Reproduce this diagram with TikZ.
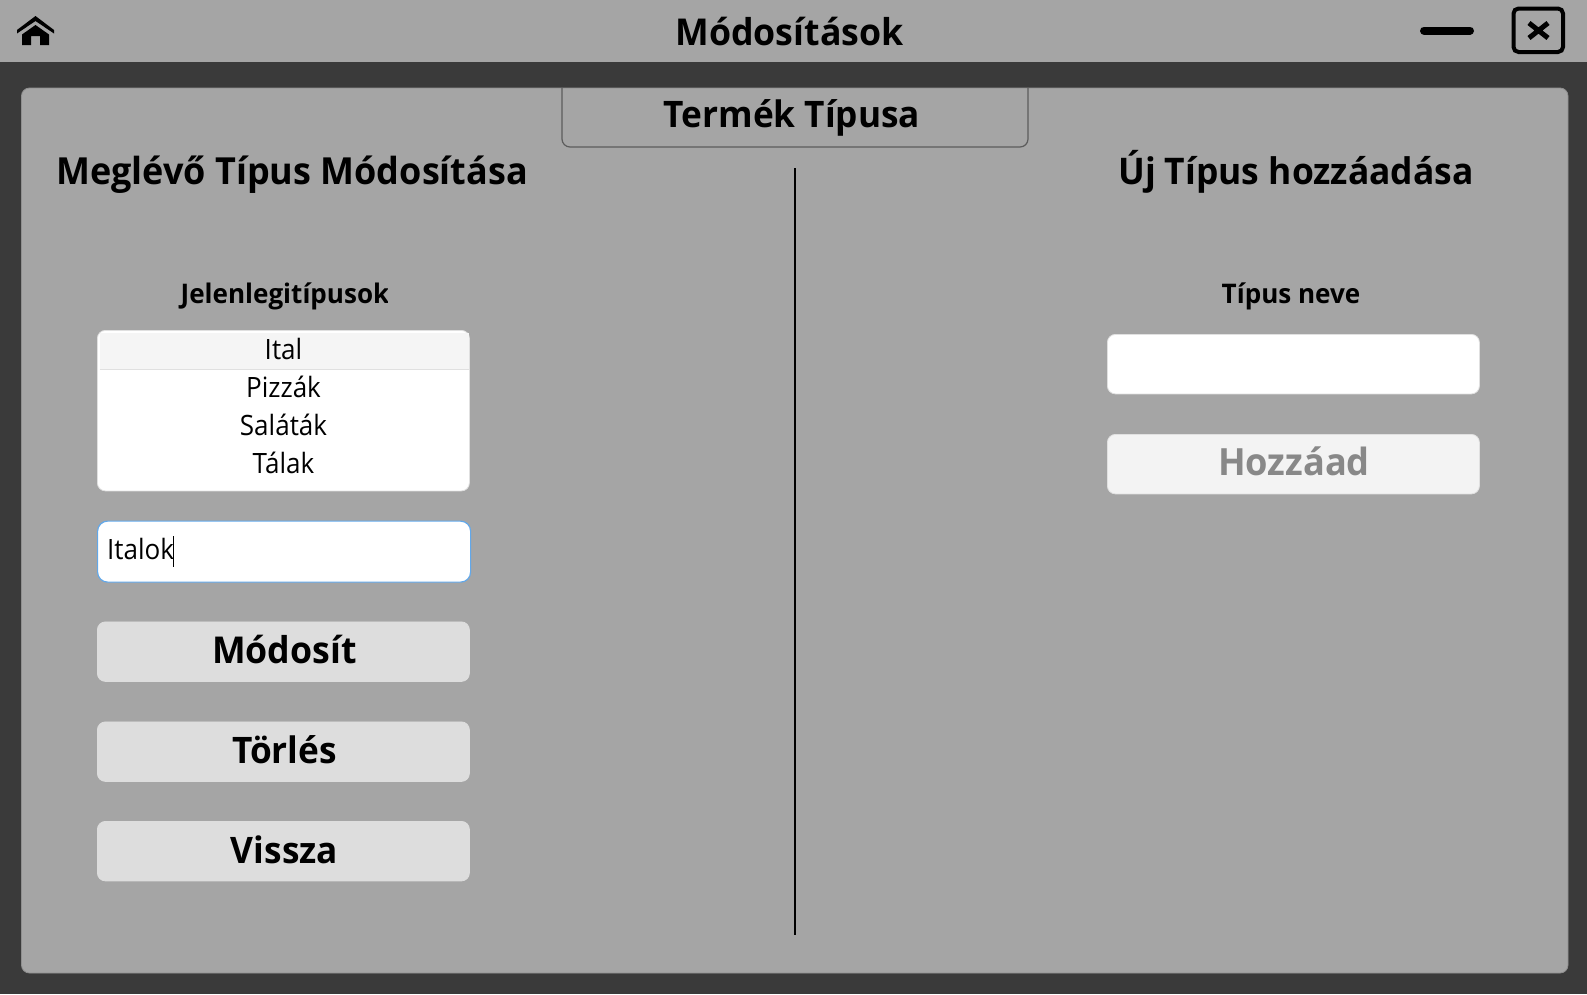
\documentclass[tikz,border=0pt]{standalone}
\usepackage{xcolor}
\usepackage{fontspec}
\setmainfont[FakeStretch=0.965]{Open Sans}
\newfontfamily\listfont[FakeStretch=0.93]{Open Sans}
\usetikzlibrary{positioning}
\definecolor{appdark}{HTML}{3A3A3A}
\definecolor{appgray}{HTML}{A5A5A5}
\definecolor{appedge}{HTML}{5C5C5C}
\definecolor{appbutton}{HTML}{DDDDDD}
\definecolor{appoff}{HTML}{F3F3F3}
\definecolor{appofftext}{HTML}{888888}
\definecolor{applist}{HTML}{F5F5F5}
\definecolor{appline}{HTML}{E0E0E0}
\definecolor{appfocus}{HTML}{62A8EA}
\newcommand{\px}[1]{\fontsize{#1}{#1}\selectfont}
\tikzset{
    titletext/.style={anchor=base, inner sep=0pt, font=\px{#1}\bfseries},
    listtext/.style={anchor=base, inner sep=0pt, font=\px{28}\listfont},
    inputbox/.style={draw=appline, fill=white, line width=0.8pt, rounded corners=8pt, inner sep=0pt, minimum width=372pt, minimum height=59.5pt},
    pushbutton/.style={inputbox, draw=appbutton, fill=appbutton},
}
\begin{document}
\begin{tikzpicture}[x=1pt, y=-1pt]
    \useasboundingbox (0,0) rectangle (1587,994);
    \fill[appdark] (0,0) rectangle (1587,994);
    \fill[appgray] (0,0) rectangle (1587,61.5);
    \draw[fill=appgray, draw=appedge!30!appgray, line width=0.8pt, rounded corners=8pt]
        (21.5,88) rectangle (1568,973);

    \node[titletext=37] (title) at (789.5,45.5) {Módosítások};
    \fill[black] (17,30) -- (35.5,16) -- (54,30) -- (54,33.5) -- (35.5,21) -- (17,33.5) -- cycle;
    \fill[black] (22,34.5) -- (35.5,25) -- (49,34.5) -- (49,45) -- (40,45) -- (40,36) -- (31,36) -- (31,45) -- (22,45) -- cycle;
    \draw[black, line width=8pt, line cap=round] (1424,30.5) -- (1470,30.5);
    \draw[black, line width=4pt, rounded corners=5pt] (1513.5,8.5) rectangle (1563,52);
    \draw[black, line width=5pt] (1529,23) -- (1548,38) (1548,23) -- (1529,38);

    \draw[draw=appedge, line width=1.2pt, rounded corners=8pt]
        (562,88) -- (562,147) -- (1028,147) -- (1028,88);
    \node[titletext=36.5] (typetitle) at (792,127) {Termék Típusa};
    \coordinate (dividertop) at (795,168);
    \coordinate (dividerbottom) at (795,935);
    \draw[black, line width=2.4pt] (dividertop) -- (dividerbottom);

    \node[titletext=37.3] (edittitle) at (292,184) {Meglévő Típus Módosítása};
    \node[titletext=36.7] (newtitle) at (1296,184) {Új Típus hozzáadása};

    \begin{scope}
        \clip (100,270) rectangle (387,320);
        \node[titletext=27] (currentlabel) at (285,303.5) {Jelenlegitípusok};
    \end{scope}
    \node[titletext=27] (namelabel) at (1291,303.5) {Típus neve};

    \node[inputbox, anchor=north west, minimum height=160.5pt] (typelist) at (97,330) {};
    \fill[applist] (99.5,333) rectangle (469,369);
    \draw[appline, line width=1pt] (99.5,369.5) -- (469,369.5);
    \node[listtext] (ital) at (283.5,359) {Ital};
    \node[listtext] (pizzak) at (283.5,397.5) {Pizzák};
    \node[listtext] (salatak) at (283.5,435) {Saláták};
    \node[listtext] (talak) at (283.5,473) {Tálak};

    \node[inputbox, draw=appfocus, line width=1.2pt, anchor=north west, minimum height=61pt, minimum width=373pt, rounded corners=10pt] (editbox) at (97,520.5) {};
    \node[listtext, anchor=base west] (edittext) at (107,559) {Italok};
    \draw[black, line width=1pt] (173.5,536) -- (173.5,567);

    \node[pushbutton, anchor=north west] (modifybutton) at (97,621.5) {};
    \node[pushbutton, anchor=north west] (deletebutton) at (97,721.5) {};
    \node[pushbutton, anchor=north west] (backbutton) at (97,821) {};
    \node[titletext=37] (modifytext) at (284.5,663) {Módosít};
    \node[titletext=36.5] (deletetext) at (284.5,763) {Törlés};
    \node[titletext=36.5] (backtext) at (284.5,863) {Vissza};

    \node[inputbox, anchor=north west] (newbox) at (1107,334) {};
    \node[inputbox, fill=appoff, anchor=north west] (addbutton) at (1107,434) {};
    \node[titletext=37.5, text=appofftext] (addtext) at (1294,475) {Hozzáad};
\end{tikzpicture}
\end{document}
